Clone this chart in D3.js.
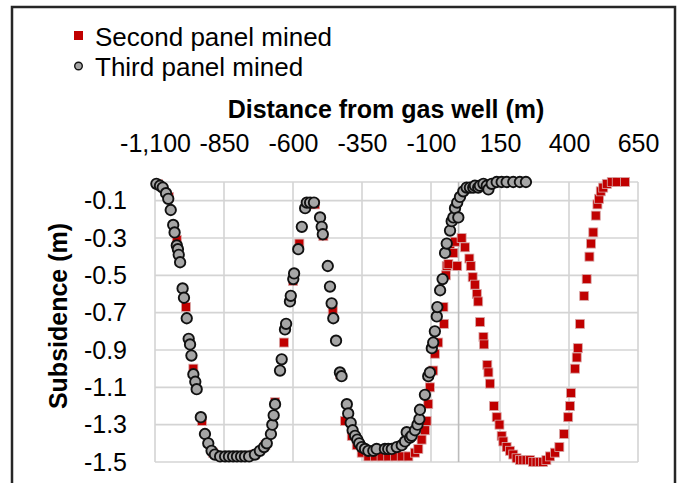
<!DOCTYPE html>
<html>
<head>
<meta charset="utf-8">
<script src="https://cdn.jsdelivr.net/npm/d3@7"></script>
<style>
  html, body { margin: 0; padding: 0; background: #fff; }
  svg { display: block; }
  text { font-family: "Liberation Sans", Arial, sans-serif; fill: #000; }
</style>
</head>
<body>
<svg id="chart" width="678" height="483"></svg>
<script>
// ---- Data ----
const seriesNames = ["Second panel mined", "Third panel mined"];

const secondX = [-1090, -1050, -1021, -988, -961, -930, -890, -840, -790, -740, -700, -665, -633, -600, -577, -545, -520, -490, -456, -430,
  -412, -387, -369, -351, -327, -303, -279, -255, -230, -206, -182, -158, -146, -134, -122, -116, -110, -104, -92, -86, -74, -53, -55,
  -46, -43, -37, -31, -19, -13, -5, 11, 23, 39, 44, 51, 59, 66, 71, 78, 90, 92, 104, 108, 114, 128, 138, 148, 156, 162, 174, 186, 198,
  210, 222, 234, 246, 259, 270, 282, 294, 306, 318, 331, 349, 365, 382, 397, 404, 407, 422, 428, 432, 440, 455, 464, 474, 480, 488, 497,
  503, 509, 515, 524, 537, 555, 573, 603];
const secondY = [-0.01, -0.08, -0.31, -0.67, -1.00, -1.28, -1.45, -1.47, -1.47, -1.46, -1.41, -1.18, -0.86, -0.53, -0.33, -0.11, -0.12, -0.29, -0.69, -1.03,
  -1.28, -1.36, -1.41, -1.45, -1.47, -1.47, -1.47, -1.47, -1.47, -1.47, -1.47, -1.45, -1.43, -1.38, -1.33, -1.28, -1.19, -1.10, -1.01, -0.92, -0.86, -0.76, -0.67,
  -0.50, -0.45, -0.44, -0.35, -0.38, -0.32, -0.45, -0.30, -0.35, -0.41, -0.45, -0.51, -0.55, -0.60, -0.64, -0.75, -0.83, -0.87, -0.98, -1.02, -1.08, -1.20, -1.26, -1.30, -1.36, -1.39, -1.42, -1.44, -1.46,
  -1.48, -1.49, -1.49, -1.49, -1.49, -1.50, -1.50, -1.50, -1.50, -1.49, -1.47, -1.45, -1.42, -1.35, -1.26, -1.20, -1.13, -1.00, -0.94, -0.89, -0.76, -0.61, -0.52, -0.40, -0.33, -0.27, -0.18,
  -0.12, -0.09, -0.05, -0.03, -0.01, 0, 0, 0];

const thirdX = [-1095, -1082, -1072, -1060, -1052, -1043, -1034, -1029, -1021, -1017, -1014, -1009, -1000, -995, -985, -978, -973, -968, -961, -954,
  -949, -934, -919, -907, -895, -883, -864, -846, -832, -817, -803, -788, -774, -759, -738, -720, -705, -695, -680, -675,
  -670, -665, -647, -641, -629, -625, -611, -608, -599, -596, -581, -568, -556, -550, -538, -524, -502, -496, -492, -474,
  -466, -460, -454, -444, -430, -424, -405, -400, -391, -384, -375, -367, -360, -351, -339, -327, -309, -297, -267, -255,
  -242, -224, -206, -194, -188, -176, -170, -158, -149, -142, -140, -122, -110, -104, -97, -92, -86, -79, -77, -67,
  -58, -49, -43, -31, -25, -19, -13, -1, -5, 5, 17, 29, 41, 53, 59, 71, 77, 90, 102, 108,
  120, 138, 156, 174, 198, 222, 244];
const thirdY = [-0.01, -0.02, -0.03, -0.06, -0.09, -0.15, -0.23, -0.27, -0.34, -0.36, -0.39, -0.43, -0.57, -0.62, -0.73, -0.84, -0.87, -0.93, -1.03, -1.07,
  -1.11, -1.26, -1.35, -1.40, -1.44, -1.46, -1.47, -1.47, -1.47, -1.47, -1.47, -1.47, -1.47, -1.47, -1.46, -1.44, -1.42, -1.40, -1.35, -1.30,
  -1.25, -1.19, -1.01, -0.95, -0.79, -0.76, -0.64, -0.61, -0.52, -0.49, -0.36, -0.24, -0.14, -0.11, -0.11, -0.11, -0.19, -0.24, -0.28, -0.45,
  -0.56, -0.65, -0.73, -0.85, -1.02, -1.04, -1.19, -1.24, -1.29, -1.33, -1.36, -1.38, -1.40, -1.42, -1.43, -1.44, -1.44, -1.43, -1.43, -1.43,
  -1.43, -1.42, -1.41, -1.39, -1.34, -1.37, -1.36, -1.33, -1.30, -1.27, -1.22, -1.14, -1.04, -1.02, -0.89, -0.86, -0.80, -0.72, -0.67, -0.58,
  -0.52, -0.38, -0.33, -0.26, -0.21, -0.19, -0.14, -0.19, -0.11, -0.08, -0.05, -0.03, -0.03, -0.03, -0.02, -0.03, -0.02, -0.01, -0.02, -0.04,
  -0.01, 0, 0, 0, 0, 0, 0];

const xTicks = [-1100, -850, -600, -350, -100, 150, 400, 650];
const yTicks = [-1.5, -1.3, -1.1, -0.9, -0.7, -0.5, -0.3, -0.1];
const xTitle = "Distance from gas well (m)";
const yTitle = "Subsidence (m)";

// ---- Layout ----
const svg = d3.select("#chart");
const plot = { left: 155, right: 638, top: 182, bottom: 462 };
const x = d3.scaleLinear().domain([-1100, 650]).range([plot.left, plot.right]);
const y = d3.scaleLinear().domain([-1.5, 0]).range([plot.bottom, plot.top]);

const loc = d3.formatLocale({ decimal: ".", thousands: ",", grouping: [3], currency: ["", ""], minus: "-" });
const fmtX = loc.format(",d");
const fmtY = loc.format(".1f");

svg.append("rect").attr("width", 678).attr("height", 483).attr("fill", "#fff");

// outer frame
svg.append("rect")
  .attr("x", 12).attr("y", 7).attr("width", 663).attr("height", 500)
  .attr("fill", "none").attr("stroke", "#262626").attr("stroke-width", 2.5);

// gridlines
const grid = svg.append("g");
grid.selectAll("line.h").data([0, ...yTicks]).join("line")
  .attr("x1", plot.left).attr("x2", plot.right)
  .attr("y1", d => y(d)).attr("y2", d => y(d))
  .attr("stroke", "#d4d4d4").attr("stroke-width", 1.6);
grid.selectAll("line.v").data(xTicks).join("line")
  .attr("x1", d => x(d)).attr("x2", d => x(d))
  .attr("y1", plot.top).attr("y2", plot.bottom)
  .attr("stroke", "#d4d4d4").attr("stroke-width", 1.6);
// vertical axis line at x = 0
svg.append("line")
  .attr("x1", x(0)).attr("x2", x(0)).attr("y1", plot.top).attr("y2", plot.bottom)
  .attr("stroke", "#bcbcbc").attr("stroke-width", 1.6);

// axes (labels only)
const xAxis = svg.append("g").attr("transform", `translate(0,${plot.top})`)
  .call(d3.axisTop(x).tickValues(xTicks).tickFormat(fmtX).tickSize(0).tickPadding(30));
const yAxis = svg.append("g").attr("transform", `translate(${plot.left},0)`)
  .call(d3.axisLeft(y).tickValues(yTicks).tickFormat(fmtY).tickSize(0).tickPadding(28));
[xAxis, yAxis].forEach(a => {
  a.select(".domain").remove();
  a.selectAll("text").attr("font-family", "Liberation Sans, Arial, sans-serif")
    .attr("font-size", 25).attr("fill", "#000");
});

// axis titles
svg.append("text").attr("x", 386).attr("y", 118).attr("text-anchor", "middle")
  .attr("font-size", 25).attr("font-weight", "bold").text(xTitle);
svg.append("text").attr("transform", "translate(67,316) rotate(-90)").attr("text-anchor", "middle")
  .attr("font-size", 25).attr("font-weight", "bold").text(yTitle);

// series: second panel (red squares) first, third panel (gray circles) on top
const sq = 9;
svg.append("g").selectAll("rect").data(secondX.map((d, i) => [d, secondY[i]])).join("rect")
  .attr("x", d => x(d[0]) - sq / 2).attr("y", d => y(d[1]) - sq / 2)
  .attr("width", sq).attr("height", sq)
  .attr("fill", "#c00000").attr("stroke", "#d8a8a8").attr("stroke-width", 0.8);

svg.append("g").selectAll("circle").data(thirdX.map((d, i) => [d, thirdY[i]])).join("circle")
  .attr("cx", d => x(d[0])).attr("cy", d => y(d[1])).attr("r", 5.2)
  .attr("fill", "#a6a6a6").attr("stroke", "#111").attr("stroke-width", 1.9);

// legend
const legend = svg.append("g");
legend.append("rect").attr("x", 74).attr("y", 31).attr("width", 9).attr("height", 9).attr("fill", "#c00000");
legend.append("text").attr("x", 95).attr("y", 46).attr("font-size", 26).text(seriesNames[0]);
legend.append("circle").attr("cx", 78.5).attr("cy", 66).attr("r", 3.8)
  .attr("fill", "#a6a6a6").attr("stroke", "#111").attr("stroke-width", 1.4);
legend.append("text").attr("x", 95).attr("y", 76).attr("font-size", 26).text(seriesNames[1]);
</script>
</body>
</html>
